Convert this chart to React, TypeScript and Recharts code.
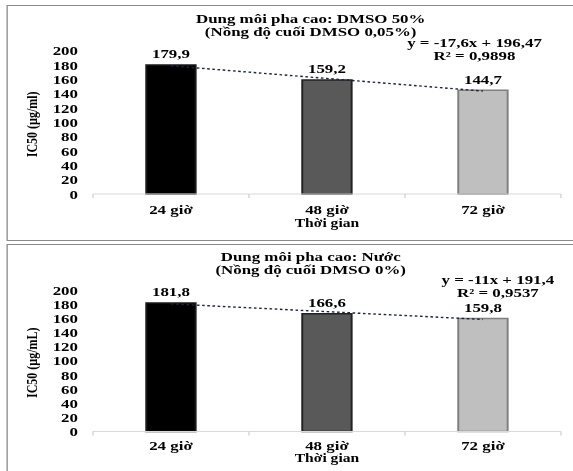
import React from 'react';
import { ComposedChart, Bar, Line, XAxis, YAxis, Cell, LabelList, Label } from 'recharts';

const categories = ['24 giờ', '48 giờ', '72 giờ'];
const ic50Dmso = [179.9, 159.2, 144.7];
const trendDmso = [178.87, 161.27, 143.67];
const ic50Water = [181.8, 166.6, 159.8];
const trendWater = [180.4, 169.4, 158.4];
const yTicks = [0, 20, 40, 60, 80, 100, 120, 140, 160, 180, 200];
const barFills = ['#000000', '#595959', '#bfbfbf'];
const barStrokes = ['#1a1a1a', '#222222', '#7f7f7f'];

const titleDmso = ['Dung môi pha cao: DMSO 50%', '(Nồng độ cuối DMSO 0,05%)'];
const eqDmso = ['y = -17,6x + 196,47', 'R² = 0,9898'];
const titleWater = ['Dung môi pha cao: Nước', '(Nồng độ cuối DMSO 0%)'];
const eqWater = ['y = -11x + 191,4', 'R² = 0,9537'];

const K = 1.3;
const W = 441;
const FONT = '"Liberation Serif", "Times New Roman", serif';

const fmt = (v: number) => v.toFixed(1).replace('.', ',');

const textStyle: React.CSSProperties = {
  fontFamily: FONT,
  fontWeight: 700,
  fontSize: 13,
  fill: '#000',
};

function makeXTick(labelDy: number) {
  return (props: any) => {
    const { x, y, payload } = props;
    const off = payload.offset ?? 0;
    const idx = categories.indexOf(payload.value);
    return (
      <g>
        <line x1={x - off} x2={x - off} y1={y} y2={y + 4} stroke="#d0d0d0" />
        {idx === categories.length - 1 && (
          <line x1={x + off} x2={x + off} y1={y} y2={y + 4} stroke="#d0d0d0" />
        )}
        <text x={x} y={y + labelDy} textAnchor="middle" dominantBaseline="central" style={textStyle}>
          {payload.value}
        </text>
      </g>
    );
  };
}

const BarValueLabel = (props: any) => {
  const { x, y, width, value } = props;
  return (
    <text x={x + width / 2} y={y - 11} textAnchor="middle" dominantBaseline="central" style={textStyle}>
      {fmt(value)}
    </text>
  );
};

type PanelProps = {
  top: number;
  height: number;
  plotTop: number;
  plotBottom: number;
  values: number[];
  trend: number[];
  tickDy: number;
  xTitleDy: number;
  yLabel: string;
};

function Panel(p: PanelProps) {
  const data = categories.map((c, i) => ({ time: c, ic50: p.values[i], trend: p.trend[i] }));
  const XTick = makeXTick(p.tickDy);
  return (
    <div style={{ position: 'absolute', left: 0, top: p.top }}>
      <ComposedChart
        width={W}
        height={p.height}
        data={data}
        margin={{ top: p.plotTop, right: 9.5, bottom: 0, left: 0 }}
      >
        <XAxis
          dataKey="time"
          height={p.height - p.plotBottom}
          tickLine={false}
          axisLine={{ stroke: '#d9d9d9' }}
          tickSize={0}
          tickMargin={0}
          interval={0}
          tick={<XTick />}
        >
          <Label
            content={(lp: any) => {
              const vb = lp.viewBox;
              return (
                <text
                  x={vb.x + vb.width / 2}
                  y={vb.y + p.xTitleDy}
                  textAnchor="middle"
                  dominantBaseline="central"
                  style={{ ...textStyle, fontSize: 12 }}
                >
                  Thời gian
                </text>
              );
            }}
          />
        </XAxis>
        <YAxis
          width={71.5}
          domain={[0, 200]}
          ticks={yTicks}
          interval={0}
          axisLine={false}
          tickLine={false}
          tickSize={0}
          tickMargin={11.5}
          tick={textStyle}
        >
          <Label
            content={(lp: any) => {
              const vb = lp.viewBox;
              const cy = vb.y + vb.height / 2 + 2;
              return (
                <text
                  x={24.6}
                  y={cy}
                  transform={`rotate(-90, 24.6, ${cy})`}
                  textAnchor="middle"
                  dominantBaseline="central"
                  style={{ ...textStyle, fontSize: 12 }}
                >
                  {p.yLabel}
                </text>
              );
            }}
          />
        </YAxis>
        <Bar dataKey="ic50" barSize={38} isAnimationActive={false}>
          {data.map((d, i) => (
            <Cell key={d.time} fill={barFills[i]} stroke={barStrokes[i]} strokeWidth={1.5} />
          ))}
          <LabelList dataKey="ic50" content={BarValueLabel} />
        </Bar>
        <Line
          dataKey="trend"
          type="linear"
          stroke="#1c2540"
          strokeWidth={1.4}
          strokeDasharray="2 2"
          dot={false}
          activeDot={false}
          isAnimationActive={false}
        />
      </ComposedChart>
    </div>
  );
}

const FS = 11.6;
const STRETCH = 13 / FS;

const TextBlock = ({ x, y, lines, lineH }: { x: number; y: number; lines: string[]; lineH: number }) => (
  <>
    {lines.map((l, i) => (
      <div
        key={l}
        style={{
          position: 'absolute',
          left: x - 150,
          top: y + i * lineH - lineH / 2,
          width: 300,
          height: lineH,
          lineHeight: `${lineH}px`,
          textAlign: 'center',
          fontFamily: FONT,
          fontWeight: 700,
          fontSize: FS,
          color: '#000',
          whiteSpace: 'nowrap',
          transform: `scaleX(${STRETCH})`,
          transformOrigin: '50% 50%',
        }}
      >
        {l}
      </div>
    ))}
  </>
);

export default function App() {
  return (
    <div
      style={{
        position: 'absolute',
        left: 0,
        top: 0,
        width: 573,
        height: 471,
        overflow: 'hidden',
        background: '#fff',
      }}
    >
      <div
        style={{
          position: 'absolute',
          left: 0,
          top: 0,
          width: W,
          height: 471,
          transform: `scaleX(${K})`,
          transformOrigin: '0 0',
        }}
      >
        <div
          style={{
            position: 'absolute',
            left: 5,
            top: 5,
            width: 480,
            height: 236,
            border: '1px solid #8a8a8a',
            boxSizing: 'border-box',
          }}
        />
        <div
          style={{
            position: 'absolute',
            left: 5,
            top: 244,
            width: 480,
            height: 240,
            border: '1px solid #8a8a8a',
            boxSizing: 'border-box',
          }}
        />
        <Panel
          top={0}
          height={240}
          plotTop={50.7}
          plotBottom={194}
          values={ic50Dmso}
          trend={trendDmso}
          tickDy={16}
          xTitleDy={29}
          yLabel="IC50 (µg/ml)"
        />
        <Panel
          top={240}
          height={231}
          plotTop={50}
          plotBottom={191.5}
          values={ic50Water}
          trend={trendWater}
          tickDy={14}
          xTitleDy={27}
          yLabel="IC50 (µg/mL)"
        />
        <TextBlock x={238.5} y={19.5} lines={titleDmso} lineH={13} />
        <TextBlock x={365.4} y={43.5} lines={eqDmso} lineH={13} />
        <TextBlock x={238.5} y={257} lines={titleWater} lineH={13} />
        <TextBlock x={383} y={280} lines={eqWater} lineH={13} />
      </div>
    </div>
  );
}
